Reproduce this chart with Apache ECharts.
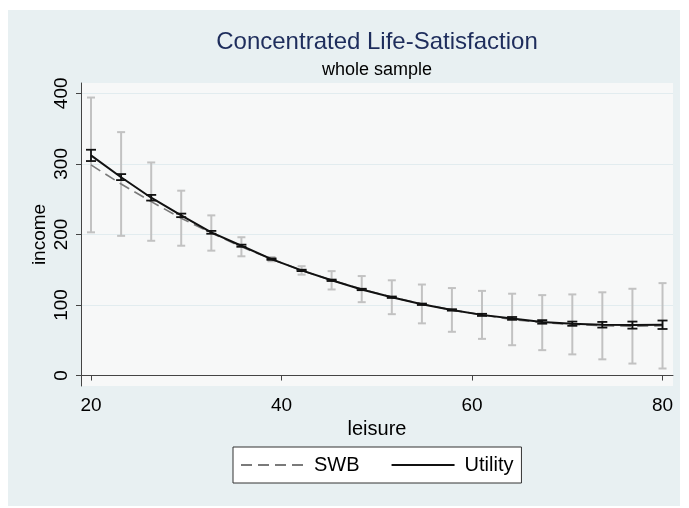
<!DOCTYPE html>
<html>
<head>
<meta charset="utf-8">
<script src="https://cdn.jsdelivr.net/npm/echarts@6/dist/echarts.min.js"></script>
<style>
html,body{margin:0;padding:0;background:#fff;}
#chart{width:689px;height:508px;}
</style>
</head>
<body>
<div id="chart"></div>
<script>
// values
let leisure=[20,23.16,26.32,29.47,32.63,35.79,38.95,42.11,45.26,48.42,51.58,54.74,57.89,61.05,64.21,67.37,70.53,73.68,76.84,80]
let swbMean=[298.5,271.5,246.5,223,202,182.5,165,149,135,122.5,111,101.5,93,86,79.5,75,72.5,70.5,70,70.5]
let swbLo=[203,198,191,184,177,169,162,143,122,104,87,74,62,52,43,36,30,23,17,10]
let swbHi=[394,345,302,262,227,196,168,155,148,141,135,129,124,120,116,114,115,118,123,131]
let utilMean=[312,281,252,227,203,184,165,149,135,122,111,101,93,86,81,76,73.5,72,71.5,72]
let utilLo=[304,277,248,224.5,201,182.5,164,148,134,121,110,100,92,84.5,79,73.5,70.5,68,66.5,66]
let utilHi=[320,285.5,256,229.5,205,185.5,166,150,136,123,112,102,94,87.5,83,78.5,76.5,76,76.5,78]
let xTicks=[20,40,60,80]
let yTicks=[0,100,200,300,400]

let swbLine=[],utilLine=[],swbBars=[],utilBars=[]
for(let i=0;i<leisure.length;i++){
    swbLine.push([leisure[i],swbMean[i]])
    utilLine.push([leisure[i],utilMean[i]])
    swbBars.push([leisure[i],swbLo[i],swbHi[i]])
    utilBars.push([leisure[i],utilLo[i],utilHi[i]])
}

// error bar with caps
function errBar(color,cap,lw){
    return function(params,api){
        let x=api.value(0)
        let lo=api.coord([x,api.value(1)])
        let hi=api.coord([x,api.value(2)])
        let st={stroke:color,lineWidth:lw,fill:null}
        return {type:'group',children:[
            {type:'line',shape:{x1:lo[0],y1:lo[1],x2:hi[0],y2:hi[1]},style:st},
            {type:'line',shape:{x1:lo[0]-cap,y1:lo[1],x2:lo[0]+cap,y2:lo[1]},style:st},
            {type:'line',shape:{x1:hi[0]-cap,y1:hi[1],x2:hi[0]+cap,y2:hi[1]},style:st}
        ]}
    }
}

let font='"Liberation Sans", Arial, sans-serif'
let myChart=echarts.init(document.getElementById('chart'))
let option={
    backgroundColor:'#ffffff',
    animation:false,
    textStyle:{fontFamily:font},
    graphic:[
        {type:'rect',z:-100,shape:{x:8,y:10,width:672,height:496},style:{fill:'#e8f0f2'}},
        {type:'text',x:377,y:42,style:{text:'Concentrated Life-Satisfaction',font:'24px '+font,fill:'#1e2d5c',textAlign:'center',textVerticalAlign:'middle'}},
        {type:'text',x:377,y:70,style:{text:'whole sample',font:'18px '+font,fill:'#000',textAlign:'center',textVerticalAlign:'middle'}}
    ],
    grid:{
        left:81,right:16,top:83,bottom:122,
        show:true,backgroundColor:'#f7f8f8',borderWidth:0
    },
    legend:{
        left:233,top:447,
        padding:[8,8,8,7],
        itemGap:31,
        itemWidth:63,
        itemHeight:14,
        borderColor:'#333',borderWidth:1,
        backgroundColor:'#ffffff',
        itemStyle:{opacity:0},
        textStyle:{fontSize:20,color:'#000',fontFamily:font,padding:[0,0,0,5]},
        data:['SWB','Utility']
    },
    xAxis:{
        type:'value',
        min:18.95,max:81.1,
        name:'leisure',nameLocation:'middle',nameGap:30,
        nameTextStyle:{fontSize:20,color:'#000'},
        axisLine:{lineStyle:{color:'#444',width:1}},
        axisTick:{show:true,length:5,customValues:xTicks,lineStyle:{color:'#444'}},
        axisLabel:{customValues:xTicks,fontSize:19,color:'#000',margin:10},
        splitLine:{show:false}
    },
    yAxis:{
        type:'value',
        min:-14.8,max:414.6,
        name:'income',nameLocation:'middle',nameGap:32,nameMoveOverlap:false,
        nameTextStyle:{fontSize:19,color:'#000'},
        axisLine:{show:true,lineStyle:{color:'#444',width:1}},
        axisTick:{show:true,length:5,customValues:yTicks,lineStyle:{color:'#444'}},
        axisLabel:{customValues:yTicks,fontSize:19,color:'#000',rotate:90,margin:10},
        splitLine:{show:true,lineStyle:{color:'#e2ecef',width:1}}
    },
    series:[
        {
            name:'swbci',type:'custom',renderItem:errBar('#c2c2c2',4,2),
            data:swbBars,encode:{x:0,y:[1,2]},z:1
        },
        {
            name:'SWB',type:'line',data:swbLine,symbol:'none',
            lineStyle:{color:'#7a7a7a',width:1.6,type:[11,6]},
            itemStyle:{color:'#7a7a7a'},z:2
        },
        {
            name:'utilci',type:'custom',renderItem:errBar('#111',5,1.8),
            data:utilBars,encode:{x:0,y:[1,2]},z:3
        },
        {
            name:'Utility',type:'line',data:utilLine,symbol:'none',
            lineStyle:{color:'#111',width:2},
            itemStyle:{color:'#111'},z:4
        }
    ]
}
myChart.setOption(option)
</script>
</body>
</html>
